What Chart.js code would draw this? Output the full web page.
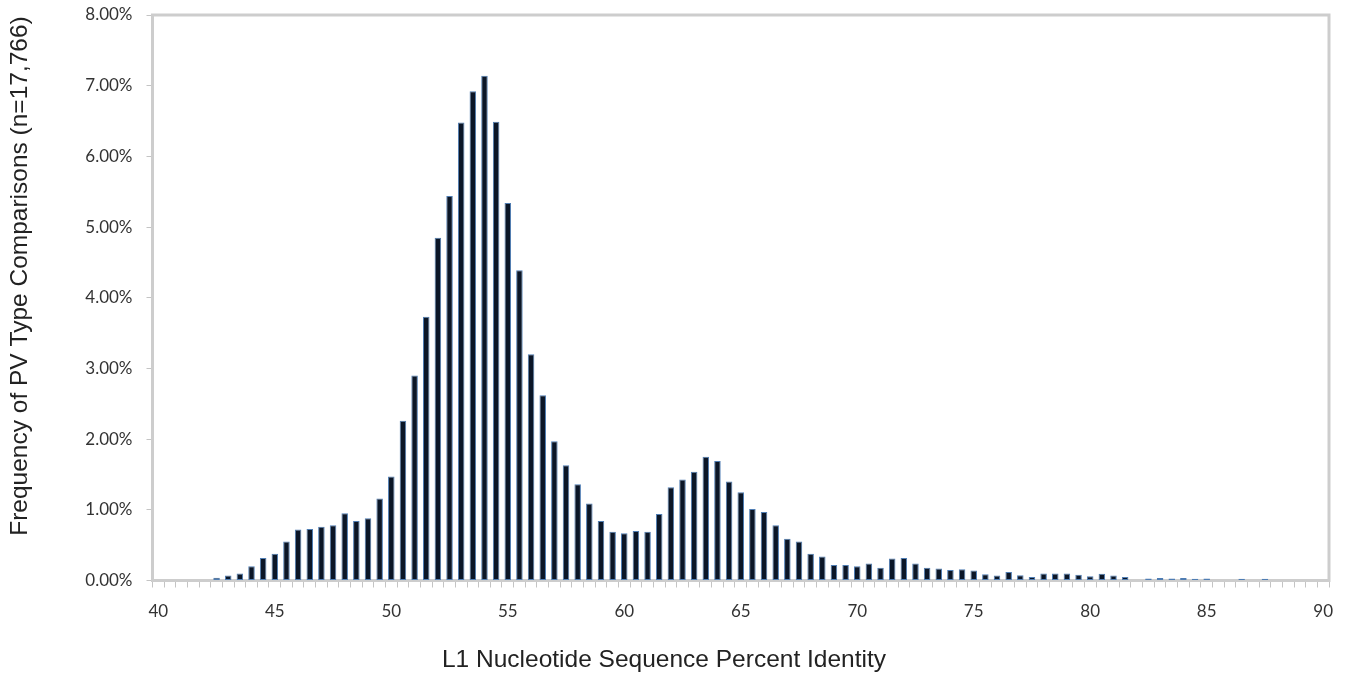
<!DOCTYPE html>
<html>
<head>
<meta charset="utf-8">
<script src="https://cdn.jsdelivr.net/npm/chart.js@4.4.1/dist/chart.umd.min.js"></script>
<style>
  html, body { margin: 0; padding: 0; background: #fff; }
  #wrap { width: 1353px; height: 675px; }
</style>
</head>
<body>
<div id="wrap"><canvas id="identityChart"></canvas></div>
<script>
// percent identity bins (0.5 wide), 40 .. 90
const bins = ['40', '40.5', '41', '41.5', '42', '42.5', '43', '43.5', '44', '44.5',
  '45', '45.5', '46', '46.5', '47', '47.5', '48', '48.5', '49', '49.5',
  '50', '50.5', '51', '51.5', '52', '52.5', '53', '53.5', '54', '54.5',
  '55', '55.5', '56', '56.5', '57', '57.5', '58', '58.5', '59', '59.5',
  '60', '60.5', '61', '61.5', '62', '62.5', '63', '63.5', '64', '64.5',
  '65', '65.5', '66', '66.5', '67', '67.5', '68', '68.5', '69', '69.5',
  '70', '70.5', '71', '71.5', '72', '72.5', '73', '73.5', '74', '74.5',
  '75', '75.5', '76', '76.5', '77', '77.5', '78', '78.5', '79', '79.5',
  '80', '80.5', '81', '81.5', '82', '82.5', '83', '83.5', '84', '84.5',
  '85', '85.5', '86', '86.5', '87', '87.5', '88', '88.5', '89', '89.5', '90'];

// frequency in percent
const freq = [0, 0, 0, 0, 0, 0.04, 0.07, 0.10, 0.20, 0.32,
  0.38, 0.55, 0.72, 0.73, 0.76, 0.78, 0.95, 0.84, 0.88, 1.16,
  1.47, 2.26, 2.90, 3.73, 4.85, 5.44, 6.48, 6.92, 7.14, 6.49,
  5.34, 4.39, 3.20, 2.62, 1.97, 1.63, 1.36, 1.09, 0.84, 0.69,
  0.67, 0.70, 0.69, 0.94, 1.32, 1.43, 1.54, 1.75, 1.69, 1.40,
  1.25, 1.01, 0.97, 0.78, 0.59, 0.55, 0.38, 0.34, 0.22, 0.22,
  0.20, 0.24, 0.18, 0.31, 0.32, 0.24, 0.18, 0.17, 0.15, 0.16,
  0.14, 0.09, 0.07, 0.12, 0.075, 0.05, 0.10, 0.10, 0.10, 0.08,
  0.06, 0.095, 0.07, 0.05, 0, 0.03, 0.035, 0.03, 0.035, 0.025,
  0.03, 0, 0, 0.025, 0, 0.025, 0, 0, 0, 0, 0];

const yTicks = [0, 1, 2, 3, 4, 5, 6, 7, 8];

const xTitle = 'L1 Nucleotide Sequence Percent Identity';
const yTitle = 'Frequency of PV Type Comparisons (n=17,766)';

const frameBox = {
  id: 'frameBox',
  beforeDatasetsDraw(chart) {
    const a = chart.chartArea;
    const ctx = chart.ctx;
    ctx.save();
    ctx.strokeStyle = '#cdcdcd';
    ctx.lineWidth = 3;
    ctx.strokeRect(a.left, a.top, a.right - a.left, a.bottom - a.top);
    ctx.restore();
  }
};

// axis titles sit off-centre in the original, so they are placed by hand
const axisTitles = {
  id: 'axisTitles',
  afterDraw(chart) {
    const ctx = chart.ctx;
    ctx.save();
    ctx.fillStyle = '#222';
    ctx.font = '24.5px "Liberation Sans", Arial, sans-serif';
    ctx.textAlign = 'center';
    ctx.textBaseline = 'middle';
    ctx.fillText(xTitle, 664, 660);
    ctx.translate(20, 276);
    ctx.rotate(-Math.PI / 2);
    ctx.fillText(yTitle, 0, 0);
    ctx.restore();
  }
};

const tickFont = { family: 'Lato', size: 17 };

new Chart(document.getElementById('identityChart'), {
  type: 'bar',
  data: {
    labels: bins,
    datasets: [{
      data: freq,
      backgroundColor: '#0b1627',
      borderColor: '#4f7db3',
      borderWidth: 1,
      borderSkipped: false,
      barPercentage: 0.56,
      categoryPercentage: 1
    }]
  },
  options: {
    responsive: true,
    maintainAspectRatio: false,
    animation: false,
    layout: { padding: { top: 15, right: 24, left: 0, bottom: 0 } },
    plugins: {
      legend: { display: false },
      tooltip: { enabled: false }
    },
    scales: {
      x: {
        type: 'category',
        offset: true,
        border: { display: false },
        grid: {
          offset: true,
          drawOnChartArea: false,
          drawTicks: true,
          tickLength: 7,
          color: '#c4c4c4',
          lineWidth: 1
        },
        ticks: {
          autoSkip: false,
          maxRotation: 0,
          padding: 14,
          color: '#333',
          font: tickFont,
          callback: (v, i) => (i % 10 === 0 ? bins[i] : '')
        },
        afterFit: (s) => { s.height = 94.5; s.paddingLeft = 0; s.paddingRight = 0; }
      },
      y: {
        min: 0,
        max: 8,
        border: { display: false },
        grid: {
          drawOnChartArea: false,
          drawTicks: true,
          tickLength: 6,
          color: '#c4c4c4'
        },
        afterBuildTicks: (s) => { s.ticks = yTicks.map(v => ({ value: v })); },
        ticks: {
          padding: 14,
          color: '#333',
          font: tickFont,
          callback: (v) => v.toFixed(2) + '%'
        },
        afterFit: (s) => { s.width = 152.5; s.paddingTop = 0; s.paddingBottom = 0; }
      }
    }
  },
  plugins: [frameBox, axisTitles]
});
</script>
</body>
</html>
